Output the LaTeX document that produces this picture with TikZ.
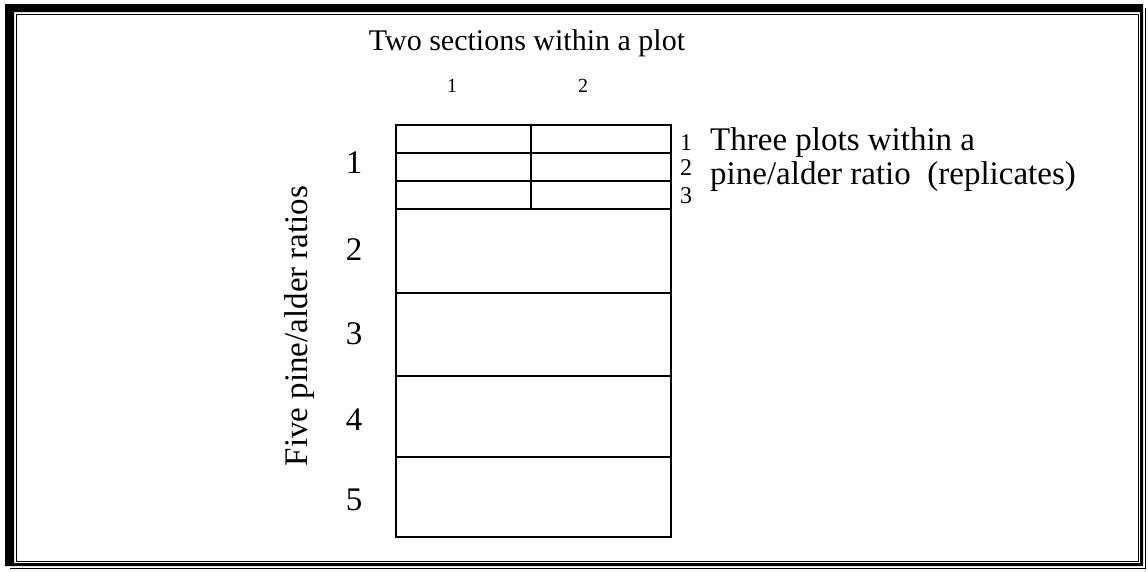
\documentclass[tikz,border=0pt]{standalone}
\usepackage{fontspec}
\setmainfont{Liberation Serif}
\begin{document}
\begin{tikzpicture}[x=1pt,y=-1pt,
  grid/.style={line width=1.4pt, line cap=rect},
  lbl/.style={inner sep=0pt, font=\fontsize{30}{34}\selectfont},
  biglbl/.style={inner sep=0pt, font=\fontsize{33}{34}\selectfont},
  smalllbl/.style={inner sep=0pt, font=\fontsize{20}{22}\selectfont},
  sidelbl/.style={inner sep=0pt, font=\fontsize{24}{26}\selectfont}]
\useasboundingbox (0,0) rectangle (1148,571);
\fill[white] (0,0) rectangle (1148,571);
% frame: heavy band with a fine rule beside it
\fill[black,even odd rule] (5,4) rectangle (1143,566) (14,12) rectangle (1140,563);
\draw[line width=0.8pt] (16.5,14.5) rectangle (1138.5,561.5);
\draw[line width=0.8pt] (1145.5,8) -- (1145.5,568.5) -- (10,568.5);
% layout grid
\coordinate (tl) at (396,125);
\coordinate (br) at (671,537);
\draw[grid] (tl) rectangle (br);
\foreach \y/\n in {153/a,181/b,209/c,293/d,376/e,457/f}
  \draw[grid] (396,\y) coordinate (L\n) -- (671,\y) coordinate (R\n);
\coordinate (mtop) at (531,125);
\draw[grid] (mtop) -- (mtop |- Lc);
% labels
\node[lbl] (title) at (527,43) {Two sections within a plot};
\node[smalllbl] (c1) at (452,86) {1};
\node[smalllbl] (c2) at (583,86) {2};
\node[biglbl] (r1) at (354,163) {1};
\node[biglbl] (r2) at (354,250) {2};
\node[biglbl] (r3) at (354,334) {3};
\node[biglbl] (r4) at (354,420) {4};
\node[biglbl] (r5) at (354,500) {5};
\node[biglbl, rotate=90] (ratios) at (300,326) {Five pine/alder ratios};
\node[sidelbl] (s1) at (686,143) {1};
\node[sidelbl] (s2) at (686,168) {2};
\node[sidelbl] (s3) at (686,196) {3};
\node[biglbl, anchor=west, align=left] (plots) at (710,160)
  {Three plots within a\\pine/alder ratio\ \ (replicates)};
\end{tikzpicture}
\end{document}
